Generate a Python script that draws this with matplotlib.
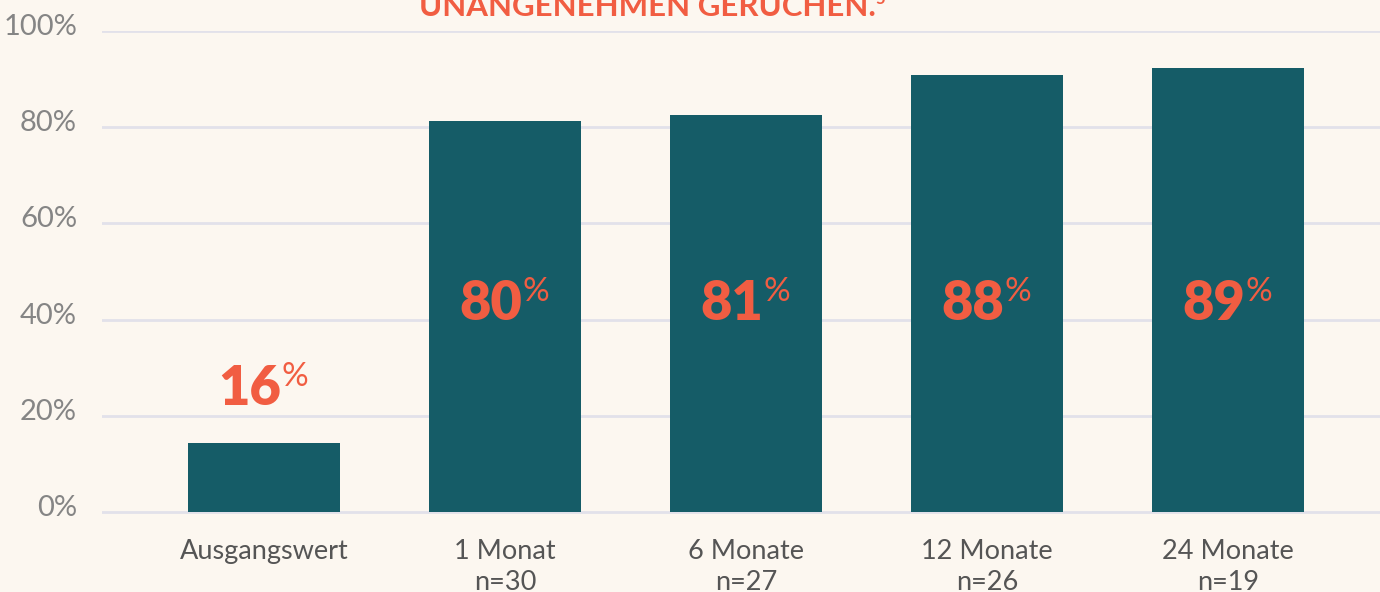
import matplotlib.pyplot as plt
from matplotlib.transforms import offset_copy, blended_transform_factory

# data
categories = ["Ausgangswert", "1 Monat\nn=30", "6 Monate\nn=27", "12 Monate\nn=26", "24 Monate\nn=19"]
bar_heights = [14.3, 81.3, 82.5, 90.9, 92.3]
value_labels = [16, 80, 81, 88, 89]
y_ticks = [0, 20, 40, 60, 80, 100]
title_text = "UNANGENEHMEN GERÜCHEN."
title_note = "5"

BG = "#fcf7f0"
BAR = "#155c67"
ACCENT = "#f15d42"
GRID = "#e2e1ea"

plt.rcParams["font.family"] = ["Lato", "DejaVu Sans"]

fig = plt.figure(figsize=(13.8, 5.92), dpi=100, facecolor=BG)
ax = fig.add_axes([102 / 1380, 77 / 592, 1278 / 1380, 484 / 592], facecolor=BG)

x = list(range(len(categories)))
ax.bar(x, bar_heights, width=0.63, color=BAR, zorder=3)

ax.set_xlim(-0.672, 4.631)
ax.set_ylim(-0.6, 100)
ax.set_yticks(y_ticks)
ax.set_yticklabels([])
ax.tick_params(axis="y", length=0)

# y labels sit a little above their grid lines
ylab_tr = offset_copy(blended_transform_factory(fig.transFigure, ax.transData),
                      fig, x=0, y=4, units="dots")
for v in y_ticks:
    ax.text(77 / 1380, v, f"{v}%", transform=ylab_tr, ha="right", va="center",
            fontsize=21, color="#858585", clip_on=False)

ax.set_xticks(x)
ax.set_xticklabels(categories, fontsize=19.5, color="#555555", linespacing=1.3, va="top")
ax.tick_params(axis="x", length=0, pad=17)
ax.grid(axis="y", color=GRID, linewidth=2, zorder=0)
for s in ax.spines.values():
    s.set_visible(False)

# value labels: big bold number + superscript %
for i, (h, v) in enumerate(zip(bar_heights, value_labels)):
    y_base = h + 8 if h < 40 else 40
    t_num = offset_copy(ax.transData, fig, x=17, y=0, units="dots")
    t_pct = offset_copy(ax.transData, fig, x=18, y=19, units="dots")
    ax.text(i, y_base, str(v), transform=t_num, ha="right", va="baseline",
            fontsize=39, fontweight="heavy", color=ACCENT, zorder=4)
    ax.text(i, y_base, "%", transform=t_pct, ha="left", va="baseline",
            fontsize=24, fontweight="normal", color=ACCENT, zorder=4)

# title, cut off at the top edge as in the original
fig.text(647 / 1380, 1 - 16 / 592, title_text, ha="center", va="baseline",
         fontsize=22.5, fontweight="bold", color=ACCENT)
fig.text(875 / 1380, 1 - 4 / 592, title_note, ha="left", va="baseline",
         fontsize=12, fontweight="bold", color=ACCENT)

fig.savefig("out.png", dpi=100, facecolor=BG)
